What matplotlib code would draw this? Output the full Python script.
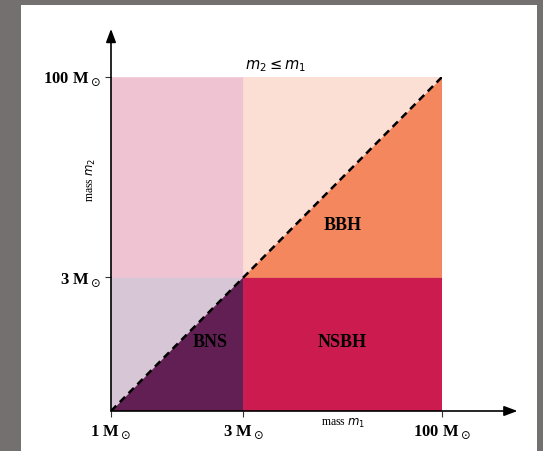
import matplotlib
matplotlib.use("Agg")
import matplotlib.pyplot as plt
from matplotlib.patches import Polygon, Rectangle

# positions of mass boundaries on the (schematic) axes
x_tick_pos = [0, 1, 2.5]
x_tick_labels = [r"1 M$_\odot$", r"3 M$_\odot$", r"100 M$_\odot$"]
y_tick_pos = [1, 2.5]
y_tick_labels = [r"3 M$_\odot$", r"100 M$_\odot$"]

# regions: polygon vertices in data units, colour
region_names = ["light_low", "bns", "nsbh", "pink_top", "peach_top", "bbh"]
region_polys = [
    [(0, 0), (0, 1), (1, 1)],
    [(0, 0), (1, 0), (1, 1)],
    [(1, 0), (2.5, 0), (2.5, 1), (1, 1)],
    [(0, 1), (1, 1), (1, 2.5), (0, 2.5)],
    [(1, 1), (2.5, 2.5), (1, 2.5)],
    [(1, 1), (2.5, 1), (2.5, 2.5)],
]
region_colors = ["#d6c6d6", "#621f53", "#cb1b4f", "#efc3d2", "#fbdfd5", "#f5875f"]

labels = ["BNS", "NSBH", "BBH"]
label_x = [0.75, 1.75, 1.75]
label_y = [0.51, 0.51, 1.39]

plt.rcParams["mathtext.fontset"] = "dejavusans"

fig = plt.figure(figsize=(5.43, 4.51), dpi=100, facecolor="#747070")
bg = Rectangle((21 / 543, 0), (537 - 21) / 543, (451 - 5) / 451,
               transform=fig.transFigure, facecolor="white",
               edgecolor="none", zorder=-10)
fig.add_artist(bg)

ax = fig.add_axes([111 / 543, (451 - 411) / 451, 331 / 543, 334 / 451])
ax.set_zorder(5)
ax.set_facecolor("none")
for poly, col in zip(region_polys, region_colors):
    ax.add_patch(Polygon(poly, closed=True, facecolor=col, edgecolor=col,
                         linewidth=0.4, zorder=1))

ax.plot([0, 2.5], [0, 2.5], color="black", linestyle=(0, (3, 2)), lw=1.8, zorder=3)

ax.set_xlim(0, 2.5)
ax.set_ylim(0, 2.5)
for s in ax.spines.values():
    s.set_visible(False)

ax.set_xticks(x_tick_pos)
ax.set_yticks(y_tick_pos)
ax.set_xticklabels(x_tick_labels, family="Liberation Serif", fontweight="bold", fontsize=12)
ax.set_yticklabels(y_tick_labels, family="Liberation Serif", fontweight="bold", fontsize=12)
ax.tick_params(axis="both", direction="out", length=4, width=0.8, color="#333333")
ax.tick_params(axis="x", pad=5)
ax.tick_params(axis="y", pad=3)

# arrows (axes)
ax.annotate("", xy=(3.07, 0), xytext=(0, 0), annotation_clip=False,
            arrowprops=dict(arrowstyle="-|>,head_length=0.8,head_width=0.3",
                            color="black", lw=1.2, shrinkA=0, shrinkB=0), zorder=4)
ax.annotate("", xy=(0, 2.86), xytext=(0, 0), annotation_clip=False,
            arrowprops=dict(arrowstyle="-|>,head_length=0.8,head_width=0.3",
                            color="black", lw=1.2, shrinkA=0, shrinkB=0), zorder=4)

for t, x, y in zip(labels, label_x, label_y):
    ax.text(x, y, t, ha="center", va="center", family="Liberation Serif",
            fontweight="bold", fontsize=13, color="black", zorder=5)

ax.text(1.75, -0.09, r"mass $m_1$", ha="center", va="center",
        family="Liberation Serif", fontsize=8.5)
ax.text(-0.15, 1.73, r"mass $m_2$", ha="center", va="center", rotation=90,
        family="Liberation Serif", fontsize=8.5)
ax.text(1.24, 2.58, r"$m_2 \leq m_1$", ha="center", va="center", fontsize=10.5)

fig.savefig("out.png", dpi=100, facecolor=fig.get_facecolor())
